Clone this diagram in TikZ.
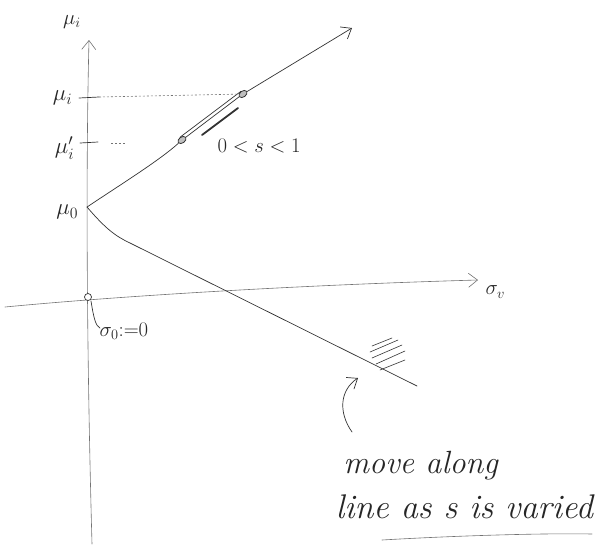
\documentclass[tikz,border=0pt]{standalone}
\usetikzlibrary{arrows.meta,shapes.geometric}
\tikzset{
  ink/.style={draw=black!80, line width=0.7pt, line cap=round, line join=round},
  faint/.style={draw=black!55, line width=0.6pt, line cap=round},
  dots/.style={draw=black!55, line width=0.6pt, dash pattern=on 2pt off 2pt},
  hand/.style={font=\itshape\huge, text=black!85},
  handmath/.style={font=\huge, text=black!85},
  open/.style={-{Straight Barb[length=9pt,width=14pt]}},
  marker/.style={draw=black!80, line width=0.8pt, fill=black!25, ellipse, minimum width=9pt, minimum height=6pt, inner sep=0pt}
}
\begin{document}
\begin{tikzpicture}[x=1pt,y=-1pt]
\useasboundingbox (0,0) rectangle (613,544);
% points
\coordinate (ytop) at (89,40);
\coordinate (ybot) at (92,544);
\coordinate (m0) at (87,207);
\coordinate (orig) at (88,297);
\coordinate (xl) at (5,307);
\coordinate (xr) at (478,280);
\coordinate (upend) at (352,28);
\coordinate (lowend) at (417,386);
% axes
\draw[faint, open] (ybot) .. controls (88,400) and (85,200) .. (ytop);
\draw[faint, open] (xl) .. controls (120,296) and (300,285) .. (xr);
\node[handmath] (ylab) at (72,22) {$\mu_i$};
\node[handmath, right] (xlab) at (482,292) {$\sigma_v$};
% ticks
\coordinate (ti) at (89,97);
\coordinate (tip) at (89,143);
\draw[ink] (79,98) -- (99,97);
\draw[ink] (80,143) -- (98,142);
\node[handmath, left, scale=1.1] (mui) at (76,98) {$\mu_i$};
\node[handmath, left, scale=1.1] (muip) at (78,148) {$\mu_i'$};
\node[handmath, left, scale=1.1] (mu0) at (82,212) {$\mu_0$};
% upper line
\node[marker, rotate=36] (s1) at (182,140) {};
\node[marker, rotate=36] (s2) at (243,94) {};
\draw[ink] (m0) .. controls (120,185) and (160,160) .. (s1);
\draw[ink] (s1.east) -- (s2.west);
\draw[ink] (s1.north) -- (s2.north);
\draw[ink, open] (s2) -- (upend);
\draw[ink, line width=1.8pt] (202,135) -- (238,108);
\node[handmath, right] (srange) at (214,146) {$0<s<1$};
% dotted projections
\draw[dots] (ti) ++(10,0) -- (s2);
\draw[dots] (tip) ++(22,0) -- ++(14,0);
% lower line
\draw[ink] (m0) .. controls (105,228) and (115,236) .. (130,243) -- (lowend);
\draw[ink, line width=0.6pt] (370,352) -- (398,340) (372,358) -- (402,345) (376,364) -- (405,351) (380,370) -- (405,360) (372,346) -- (392,338);
% origin marker
\draw[ink, fill=white] (orig) circle (3.5pt);
\draw[ink] (91,301) .. controls (94,320) and (96,326) .. (100,328);
\node[font=\huge, text=black!85, right] (s0) at (96,331) {$\sigma_0{:=}0$};
% annotation
\coordinate (abot) at (352,432);
\draw[ink, open] (abot) .. controls (338,412) and (340,390) .. (358,378);
\node[hand, anchor=west, scale=1.55] (t1) at (338,466) {move along};
\node[hand, anchor=west, scale=1.65] (t2) at (330,507) {line as s is varied};
\draw[faint] (382,540) .. controls (450,536) and (540,533) .. (592,534);
\end{tikzpicture}
\end{document}
